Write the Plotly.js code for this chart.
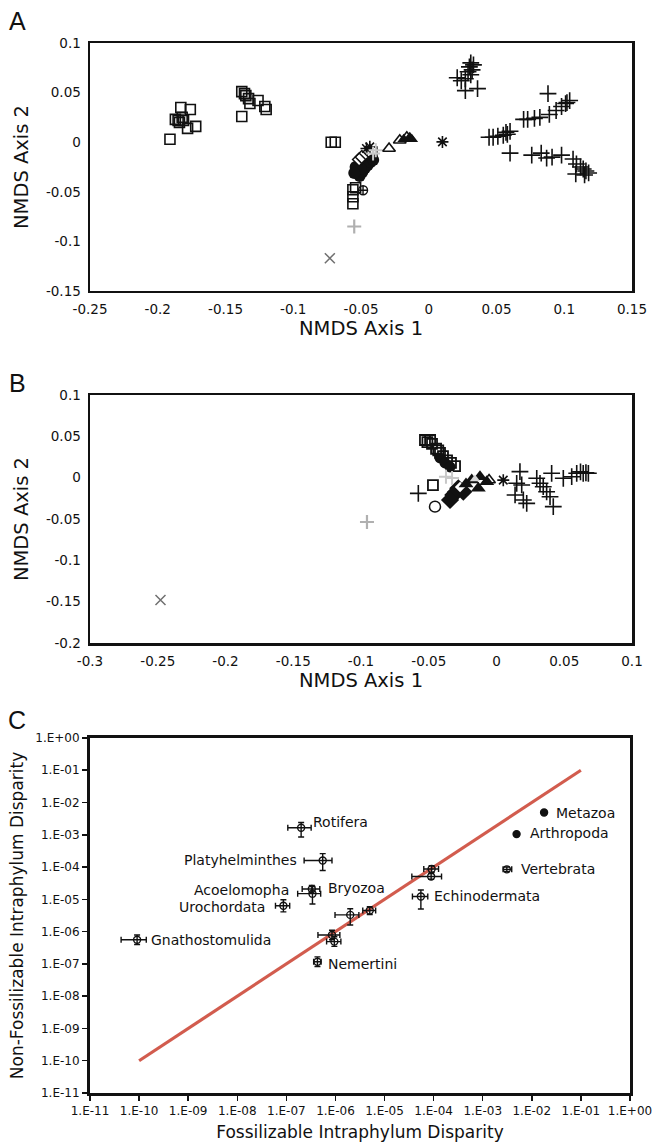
<!DOCTYPE html>
<html>
<head>
<meta charset="utf-8">
<script src="https://cdn.plot.ly/plotly-3.0.1.min.js"></script>
<style>
html,body{margin:0;padding:0;background:#fff;}
#plot{width:658px;height:1145px;}
</style>
</head>
<body>
<div id="plot"></div>
<script>
// ---------- Panel A data ----------
const aSquareX = [-0.191,-0.187,-0.185,-0.183,-0.176,-0.178,-0.172,-0.182,-0.184,-0.181,
                  -0.138,-0.138,-0.135,-0.133,-0.126,-0.120,-0.121,-0.132,-0.136,
                  -0.072,-0.069,-0.056,-0.056,-0.056,-0.054,-0.042];
const aSquareY = [0.003,0.023,0.022,0.035,0.033,0.014,0.016,0.025,0.020,0.022,
                  0.026,0.051,0.047,0.044,0.042,0.033,0.036,0.039,0.049,
                  0.000,0.000,-0.048,-0.055,-0.062,-0.046,-0.010];
const aPlusX = [0.027,0.030,0.031,0.032,0.029,0.021,0.027,0.036,0.024,0.031,0.033,
                0.0445,0.0475,0.051,0.055,0.057,0.060,0.058,0.060,
                0.070,0.073,0.078,0.082,0.089,0.094,0.098,0.101,0.104,0.102,0.088,
                0.076,0.083,0.087,0.091,0.098,0.1065,0.109,0.114,0.118,0.1085,0.115,0.112,0.116];
const aPlusY = [0.064,0.076,0.080,0.073,0.071,0.065,0.052,0.054,0.062,0.068,0.078,
                0.005,0.005,0.006,0.007,0.010,0.011,0.008,-0.011,
                0.023,0.023,0.024,0.025,0.028,0.032,0.036,0.039,0.042,0.040,0.049,
                -0.013,-0.011,-0.016,-0.015,-0.013,-0.017,-0.022,-0.027,-0.031,-0.032,-0.033,-0.025,-0.029];
const aDotX = [-0.053,-0.051,-0.049,-0.047,-0.045,-0.043,-0.041,-0.054,-0.050,-0.055];
const aDotY = [-0.030,-0.034,-0.030,-0.026,-0.023,-0.020,-0.018,-0.025,-0.027,-0.031];
const aDiamondX = [-0.0514,-0.0494];
const aDiamondY = [-0.0174,-0.015];
const aStarX = [-0.046,-0.0435,0.0101];
const aStarY = [-0.0064,-0.0047,0.0003];
const aLightCrossX = [-0.0411,-0.0391];
const aLightCrossY = [-0.0114,-0.0081];
const aTriOpenX = [-0.0293,-0.0214,-0.0162];
const aTriOpenY = [-0.0064,0.002,0.005];
const aTriFillX = [-0.0185,-0.014,-0.0125];
const aTriFillY = [0.003,0.005,0.003];
const aCircCrossX = [-0.0485];
const aCircCrossY = [-0.0484];
const aGrayPlusX = [-0.055];
const aGrayPlusY = [-0.085];
const aGrayXX = [-0.073];
const aGrayXY = [-0.117];

// ---------- Panel B data ----------
const bSquareX = [-0.0528,-0.049,-0.0476,-0.0446,-0.0417,-0.0395,-0.0365,-0.0336,-0.0306,-0.0469,-0.051,-0.043];
const bSquareY = [0.0456,0.0456,0.041,0.035,0.030,0.026,0.021,0.018,0.014,-0.009,0.043,0.033];
const bDotX = [-0.0417,-0.038,-0.0343];
const bDotY = [0.0239,0.0178,0.013];
const bDiamondFillX = [-0.0282,-0.0319,-0.0245,-0.0299,-0.0343];
const bDiamondFillY = [-0.0128,-0.021,-0.017,-0.0173,-0.027];
const bDiamondOpenX = [-0.0269];
const bDiamondOpenY = [-0.0113];
const bTriFillX = [-0.0183,-0.0122,-0.0072,-0.0134,-0.0225];
const bTriFillY = [-0.0028,0.0012,-0.0048,-0.0128,-0.0076];
const bTriOpenX = [-0.0055];
const bTriOpenY = [-0.0028];
const bTriGrayX = [-0.0159];
const bTriGrayY = [-0.0016];
const bLightCrossX = [-0.0373,-0.0328];
const bLightCrossY = [0.0012,-0.0004];
const bCircleX = [-0.0454];
const bCircleY = [-0.035];
const bPlusX = [-0.0577,0.0173,0.0149,0.0137,0.0186,0.0198,0.0223,0.0297,0.0321,0.0345,0.037,0.0395,
                0.0407,0.0419,0.0493,0.0555,0.0592,0.064,0.0678,0.062,0.066];
const bPlusY = [-0.019,0.0073,-0.0068,-0.0209,-0.0088,-0.027,-0.031,-0.0007,-0.0068,-0.0109,-0.017,-0.023,
                0.0053,-0.035,-0.0007,0.0012,0.0053,0.0053,0.0053,0.007,0.006];
const bStarX = [0.005];
const bStarY = [-0.003];
const bGrayPlusX = [-0.0956];
const bGrayPlusY = [-0.0536];
const bGrayXX = [-0.248];
const bGrayXY = [-0.148];

// ---------- Panel C data ----------
const cNames = ['Gnathostomulida','Urochordata','Acoelomopha','Bryozoa','Platyhelminthes','Rotifera',
                '','','','','Nemertini','Metazoa','Arthropoda','Vertebrata','','','Echinodermata'];
const cFossil = [9.1e-11,8.7e-8,3.4e-7,3.3e-7,5.5e-7,2.0e-7,2.0e-6,5.0e-6,8.5e-7,9.5e-7,4.3e-7,
                 1.78e-2,4.9e-3,3.1e-3,9.1e-5,8.9e-5,5.5e-5];
const cFossilLo = [4.3e-11,6.0e-8,1.7e-7,2.1e-7,2.3e-7,1.07e-7,9.8e-7,3.6e-6,4.4e-7,6.6e-7,3.6e-7,
                   1.78e-2,4.9e-3,2.6e-3,6.3e-5,3.6e-5,3.7e-5];
const cFossilHi = [1.4e-10,1.17e-7,5.0e-7,4.8e-7,8.5e-7,3.2e-7,3.0e-6,6.6e-6,1.23e-6,1.29e-6,5.1e-7,
                   1.78e-2,4.9e-3,3.9e-3,1.26e-4,1.45e-4,7.6e-5];
const cNonFossil = [5.6e-7,6.3e-6,1.5e-5,2.1e-5,1.6e-4,1.66e-3,3.3e-6,4.5e-6,7.9e-7,4.9e-7,1.17e-7,
                    4.9e-3,1.05e-3,8.5e-5,8.7e-5,5.1e-5,1.23e-5];
const cNonFossilLo = [4.0e-7,4.1e-6,7.2e-6,1.7e-5,7.8e-5,8.5e-4,1.6e-6,3.4e-6,5.6e-7,3.5e-7,8.3e-8,
                      4.9e-3,1.05e-3,7.3e-5,6.9e-5,4.2e-5,5.0e-6];
const cNonFossilHi = [7.9e-7,9.7e-6,2.5e-5,2.7e-5,2.6e-4,2.4e-3,5.1e-6,5.9e-6,1.1e-6,6.9e-7,1.65e-7,
                      4.9e-3,1.05e-3,1.0e-4,1.1e-4,6.3e-5,1.95e-5];
const cFitX = [1e-10, 1e-1];
const cFitY = [1e-10, 1e-1];

// ---------- tick labels ----------
const aXTickVals = [-0.25,-0.2,-0.15,-0.1,-0.05,0,0.05,0.1,0.15];
const aXTickText = ['-0.25','-0.2','-0.15','-0.1','-0.05','0','0.05','0.1','0.15'];
const aYTickVals = [-0.15,-0.1,-0.05,0,0.05,0.1];
const aYTickText = ['-0.15','-0.1','-0.05','0','0.05','0.1'];
const bXTickVals = [-0.3,-0.25,-0.2,-0.15,-0.1,-0.05,0,0.05,0.1];
const bXTickText = ['-0.3','-0.25','-0.2','-0.15','-0.1','-0.05','0','0.05','0.1'];
const bYTickVals = [-0.2,-0.15,-0.1,-0.05,0,0.05,0.1];
const bYTickText = ['-0.2','-0.15','-0.1','-0.05','0','0.05','0.1'];
const cTickVals = [1e-11,1e-10,1e-9,1e-8,1e-7,1e-6,1e-5,1e-4,1e-3,1e-2,1e-1,1e0];
const cTickText = ['1.E-11','1.E-10','1.E-09','1.E-08','1.E-07','1.E-06','1.E-05','1.E-04','1.E-03','1.E-02','1.E-01','1.E+00'];

// ---------- styling (not data) ----------
const FONT = 'DejaVu Sans, Verdana, sans-serif';
function sc(x, y, ax, symbol, color, size, lw) {
  return {type:'scatter', mode:'markers', x:x, y:y, xaxis:'x'+ax, yaxis:'y'+ax,
    hoverinfo:'skip', showlegend:false,
    marker:{symbol:symbol, size:size, color:color, line:{color:color, width:lw}}};
}
const traces = [
  // Panel A
  sc(aSquareX, aSquareY, '', 'square-open', '#111', 10, 1.6),
  sc(aPlusX, aPlusY, '', 'cross-thin-open', '#111', 12, 1.6),
  sc(aDotX, aDotY, '', 'circle', '#111', 12, 0),
  sc(aDiamondX, aDiamondY, '', 'diamond', '#fff', 10, 0),
  sc(aDiamondX, aDiamondY, '', 'diamond-open', '#111', 10, 1.5),
  sc(aStarX, aStarY, '', 'asterisk-open', '#111', 10, 1.6),
  sc(aLightCrossX, aLightCrossY, '', 'cross-thin-open', '#c8c8c8', 10, 2),
  sc(aTriOpenX, aTriOpenY, '', 'triangle-up-open', '#111', 11, 1.6),
  sc(aTriFillX, aTriFillY, '', 'triangle-up', '#111', 11, 0),
  sc(aCircCrossX, aCircCrossY, '', 'circle-cross-open', '#111', 9, 1.4),
  sc(aGrayPlusX, aGrayPlusY, '', 'cross-thin-open', '#b0b0b0', 10, 2.2),
  sc(aGrayXX, aGrayXY, '', 'x-thin-open', '#707070', 10, 1.5),
  // Panel B
  sc(bSquareX, bSquareY, '2', 'square-open', '#111', 10, 1.8),
  sc(bDotX, bDotY, '2', 'circle', '#111', 11, 0),
  sc(bDiamondFillX, bDiamondFillY, '2', 'diamond', '#111', 14, 0),
  sc(bDiamondOpenX, bDiamondOpenY, '2', 'diamond', '#fff', 8, 0),
  sc(bTriFillX, bTriFillY, '2', 'triangle-up', '#111', 13, 0),
  sc(bTriGrayX, bTriGrayY, '2', 'triangle-up', '#d8d8d8', 9, 0),
  sc(bTriOpenX, bTriOpenY, '2', 'triangle-up-open', '#111', 11, 1.6),
  sc(bLightCrossX, bLightCrossY, '2', 'cross-thin-open', '#c8c8c8', 10, 2),
  sc(bCircleX, bCircleY, '2', 'circle-open', '#111', 11, 1.5),
  sc(bPlusX, bPlusY, '2', 'cross-thin-open', '#111', 12, 1.6),
  sc(bStarX, bStarY, '2', 'asterisk-open', '#111', 10, 1.6),
  sc(bGrayPlusX, bGrayPlusY, '2', 'cross-thin-open', '#b0b0b0', 10, 2.2),
  sc(bGrayXX, bGrayXY, '2', 'x-thin-open', '#707070', 10, 1.5),
  // Panel C fit line
  {type:'scatter', mode:'lines', x:cFitX, y:cFitY, xaxis:'x3', yaxis:'y3', hoverinfo:'skip', showlegend:false,
   line:{color:'#d25c4e', width:3.2}},
  // Panel C points
  {type:'scatter', mode:'markers', x:cFossil, y:cNonFossil, xaxis:'x3', yaxis:'y3', hoverinfo:'skip', showlegend:false,
   marker:{symbol: cNames.map(n => (n==='Metazoa'||n==='Arthropoda') ? 'circle' : 'circle-open'),
           size:7, color:'#111', line:{color:'#111', width:1.4}},
   error_x:{type:'data', symmetric:false,
            array: cFossilHi.map((h,i)=>h-cFossil[i]), arrayminus: cFossil.map((v,i)=>v-cFossilLo[i]),
            color:'#111', thickness:1.4, width:3},
   error_y:{type:'data', symmetric:false,
            array: cNonFossilHi.map((h,i)=>h-cNonFossil[i]), arrayminus: cNonFossil.map((v,i)=>v-cNonFossilLo[i]),
            color:'#111', thickness:1.4, width:3}}
];

// label placement for panel C (style only)
const labelSide = {Gnathostomulida:['left',12,0], Urochordata:['right',-16,-1], Acoelomopha:['right',-21,4],
  Bryozoa:['left',14,1], Platyhelminthes:['right',-24,0], Rotifera:['left',10,6], Nemertini:['left',9,-2],
  Metazoa:['left',10,0], Arthropoda:['left',11,1], Vertebrata:['left',12,0], Echinodermata:['left',11,0]};

const annotations = [];
cNames.forEach((n,i)=>{
  if(!n) return;
  const s = labelSide[n];
  annotations.push({xref:'x3', yref:'y3', x:Math.log10(cFossil[i]), y:Math.log10(cNonFossil[i]),
    text:n, showarrow:false, xanchor:s[0], yanchor:'middle', xshift:s[1], yshift:s[2],
    font:{family:FONT, size:14, color:'#111'}});
});
[['A',0.9817],['B',0.6655],['C',0.3712]].forEach(p=>{
  annotations.push({xref:'paper', yref:'paper', x:0.026, y:p[1], text:p[0], showarrow:false,
    xanchor:'center', yanchor:'middle', font:{family:'Liberation Sans, Arial, sans-serif', size:25, color:'#111'}});
});

function linAxis(domain, anchor, range, tv, tt, title, standoff) {
  return {domain:domain, anchor:anchor, range:range, tickmode:'array', tickvals:tv, ticktext:tt,
    showline:true, mirror:true, linewidth:2.5, linecolor:'#111', showgrid:false, zeroline:false,
    ticks:'outside', ticklen:4, tickcolor:'rgba(0,0,0,0)',
    tickfont:{family:FONT, size:13.5, color:'#111'},
    title:{text:title, font:{family:FONT, size:19.5, color:'#111'}, standoff:standoff}};
}
function logAxis(domain, anchor, title, standoff) {
  return {type:'log', domain:domain, anchor:anchor, range:[-11,0], tickmode:'array', tickvals:cTickVals, ticktext:cTickText,
    showline:true, mirror:true, linewidth:3, linecolor:'#111', showgrid:false, zeroline:false,
    ticks:'outside', ticklen:5, tickwidth:1.5, tickcolor:'#111',
    tickfont:{family:FONT, size:12, color:'#111'},
    title:{text:title, font:{family:FONT, size:17, color:'#111'}, standoff:standoff}};
}

const layout = {
  width:658, height:1145, margin:{l:0,r:0,t:0,b:0}, paper_bgcolor:'#fff', plot_bgcolor:'#fff',
  showlegend:false, font:{family:FONT, color:'#111'},
  xaxis: linAxis([0.1368,0.9605], 'y', [-0.25001,0.15001], aXTickVals, aXTickText, 'NMDS Axis 1', 2),
  yaxis: linAxis([0.7459,0.9624], 'x', [-0.15001,0.10001], aYTickVals, aYTickText, 'NMDS Axis 2', 12),
  xaxis2: linAxis([0.1368,0.9605], 'y2', [-0.30001,0.10001], bXTickVals, bXTickText, 'NMDS Axis 1', 2),
  yaxis2: linAxis([0.4384,0.6550], 'x2', [-0.20001,0.10001], bYTickVals, bYTickText, 'NMDS Axis 2', 12),
  xaxis3: logAxis([0.1368,0.9574], 'y3', 'Fossilizable Intraphylum Disparity', 9),
  yaxis3: logAxis([0.0454,0.3555], 'x3', 'Non-Fossilizable Intraphylum Disparity', 8),
  annotations: annotations
};

Plotly.newPlot('plot', traces, layout, {staticPlot:true, displayModeBar:false});
</script>
</body>
</html>
